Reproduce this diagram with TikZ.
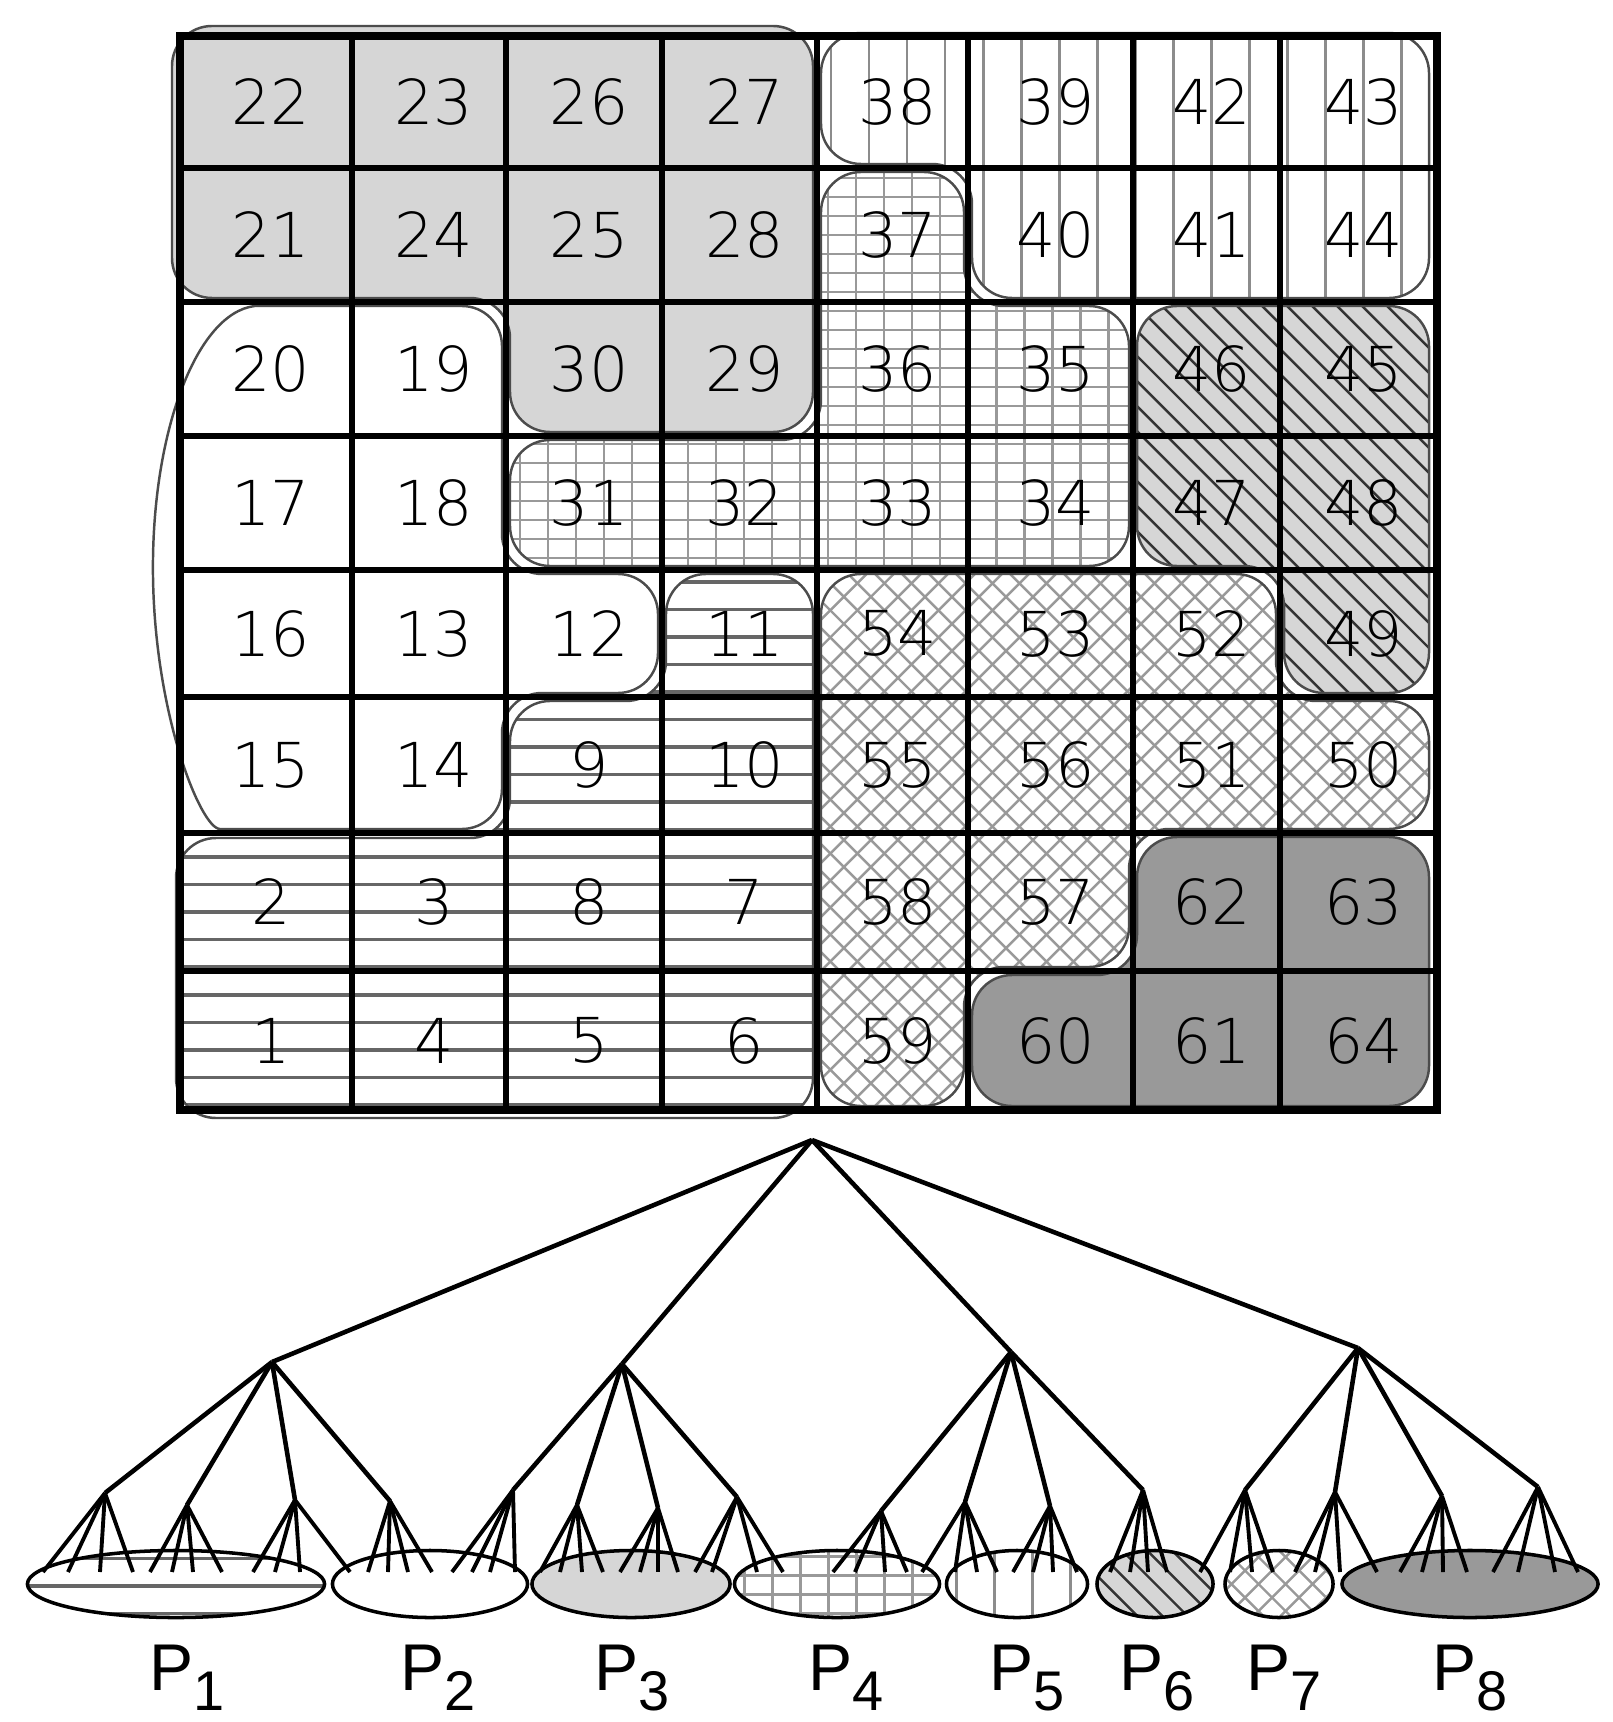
\documentclass[tikz,border=0pt]{standalone}
\usepackage{fontspec}
\usetikzlibrary{calc,shapes.geometric}
\newfontfamily\numfont{DejaVuSans-ExtraLight.ttf}
\newfontfamily\labfont{Liberation Sans}
\newcommand\psub[1]{\raisebox{-0.2cm}{\fontsize{15.9}{16}\selectfont #1}}
\tikzset{
    % region fills (shared by the cell regions and the leaf sets)
    hstripe/.style={path picture={
        \foreach \t in {0,...,45}
          \draw[black!60,line width=1pt] ([yshift=-\t*0.275cm-0.08cm]path picture bounding box.north west) -- ++(14cm,0cm);}},
    plain/.style={fill=white},
    lightfill/.style={fill=black!16},
    gridfill/.style={path picture={
        \foreach \t in {0,...,45}
          \draw[black!40,line width=0.7pt] ([yshift=-\t*0.19cm-0.06cm]path picture bounding box.north west) -- ++(14cm,0cm);
        \foreach \t in {0,...,45}
          \draw[black!40,line width=0.7pt] ([xshift=\t*0.28cm+0.1cm]path picture bounding box.north west) -- ++(0cm,-14cm);}},
    vstripe/.style={path picture={
        \foreach \t in {0,...,40}
          \draw[black!45,line width=0.8pt] ([xshift=\t*0.38cm+0.1cm]path picture bounding box.north west) -- ++(0cm,-14cm);}},
    diagfill/.style={fill=black!16,path picture={
        \foreach \t in {-40,...,25}
          \draw[black!80,line width=0.7pt] ([xshift=\t*0.25cm]path picture bounding box.north west) -- ++(14cm,-14cm);}},
    crossfill/.style={path picture={
        \foreach \t in {-40,...,35} {
          \draw[black!40,line width=0.7pt] ([xshift=\t*0.27cm]path picture bounding box.north west) -- ++(14cm,-14cm);
          \draw[black!40,line width=0.7pt] ([xshift=\t*0.27cm]path picture bounding box.south west) -- ++(14cm,14cm);}}},
    darkfill/.style={fill=black!40},
}
\begin{document}
\begin{tikzpicture}[x=0.01cm,y=-0.01cm,
   blob/.style={rounded corners=0.4cm,postaction={draw=black!70,line width=0.7pt}},
   gridline/.style={line width=1.8pt},
   num/.style={font=\numfont\fontsize{17.6}{18}\selectfont,inner sep=0pt,xshift=0.05cm},
   leafset/.style={ellipse,draw,line width=1pt,minimum height=0.67cm,inner sep=0pt},
   branch/.style={line width=1.3pt},
   plab/.style={anchor=base west,inner sep=0pt,font=\labfont\fontsize{18.8}{20}\selectfont}]
  \useasboundingbox (0,0) rectangle (1613,1722);
  % grid corners
  \foreach \c/\xv in {0/180,1/352,2/506,3/662,4/817,5/968,6/1133,7/1280,8/1437}
    \foreach \r/\yv in {0/36,1/168,2/302,3/436,4/570,5/697,6/833,7/971,8/1110}
      \coordinate (g\c\r) at (\xv,\yv);
  % regions
  \path[hstripe,blob] ($(g06)+(-4,5)$) -- ($(g26)+(4,5)$) -- ($(g25)+(4,4)$)
    -- ($(g35)+(4,4)$) -- ($(g34)+(4,4)$) -- ($(g44)+(-4,4)$) -- ($(g48)+(-4,8)$)
    -- ($(g08)+(-4,8)$) -- cycle;
  \path[plain,blob] (260,306) -- ($(g22)+(-4,4)$)
    -- ($(g24)+(-4,4)$) -- ($(g34)+(-4,4)$) -- ($(g35)+(-4,-4)$) -- ($(g25)+(-4,-4)$)
    -- ($(g26)+(-4,-4)$) -- (260,829) [sharp corners]
    arc[start angle=270,end angle=90,x radius=1.07cm,y radius=2.615cm] -- cycle;
  \path[lightfill,blob] ($(g00)+(-8,-10)$) -- ($(g40)+(-4,-10)$) -- ($(g43)+(-4,-4)$)
    -- ($(g23)+(4,-4)$) -- ($(g22)+(4,-4)$) -- ($(g02)+(-8,-4)$) -- cycle;
  \path[gridfill,blob] ($(g23)+(4,4)$) -- ($(g43)+(4,4)$) -- ($(g41)+(4,4)$)
    -- ($(g51)+(-4,4)$) -- ($(g52)+(-4,4)$) -- ($(g62)+(-4,4)$) -- ($(g64)+(-4,-4)$)
    -- ($(g24)+(4,-4)$) -- cycle;
  \path[vstripe,blob] ($(g40)+(4,-3)$) -- ($(g80)+(-8,-3)$) -- ($(g82)+(-8,-4)$)
    -- ($(g52)+(4,-4)$) -- ($(g51)+(4,-4)$) -- ($(g41)+(4,-4)$) -- cycle;
  \path[diagfill,blob] ($(g62)+(4,4)$) -- ($(g82)+(-8,4)$) -- ($(g85)+(-8,-4)$)
    -- ($(g75)+(4,-4)$) -- ($(g74)+(4,-4)$) -- ($(g64)+(4,-4)$) -- cycle;
  \path[crossfill,blob] ($(g44)+(4,4)$) -- ($(g74)+(-4,4)$) -- ($(g75)+(-4,4)$)
    -- ($(g85)+(-8,4)$) -- ($(g86)+(-8,-4)$) -- ($(g66)+(-4,-4)$) -- ($(g67)+(-4,-4)$)
    -- ($(g57)+(-4,-4)$) -- ($(g58)+(-4,-4)$) -- ($(g48)+(4,-4)$) -- cycle;
  \path[darkfill,blob] ($(g66)+(4,4)$) -- ($(g86)+(-8,4)$) -- ($(g88)+(-8,-4)$)
    -- ($(g58)+(4,-4)$) -- ($(g57)+(4,4)$) -- ($(g67)+(4,4)$) -- cycle;
  % grid
  \foreach \i in {1,...,7} {
    \draw[gridline] (g\i0) -- (g\i8);
    \draw[gridline] (g0\i) -- (g8\i);
  }
  \draw[gridline,line width=2.2pt] (g00) rectangle (g88);
  % cell numbers
  \foreach \r/\row in {1/{22,23,26,27,38,39,42,43},2/{21,24,25,28,37,40,41,44},
                       3/{20,19,30,29,36,35,46,45},4/{17,18,31,32,33,34,47,48},
                       5/{16,13,12,11,54,53,52,49},6/{15,14,9,10,55,56,51,50},
                       7/{2,3,8,7,58,57,62,63},8/{1,4,5,6,59,60,61,64}}
    \foreach \v [count=\c] in \row {
      \pgfmathtruncatemacro\cp{\c-1}
      \pgfmathtruncatemacro\rp{\r-1}
      \node[num] (c\v) at ($(g\cp\rp)!0.5!(g\c\r)$) {\v};
    }
  % hierarchy
  \coordinate (root) at (812,1140);
  \foreach \m/\mx/\my in {1/272/1362,2/622/1364,3/1011/1352,4/1358/1348}
    \coordinate (m\m) at (\mx,\my);
  \foreach \nb/\bx/\by/\lvs in {1/105/1493/{43,68,100,133},2/187/1505/{150,172,193,222},
      3/295/1500/{253,275,300,350},4/390/1501/{368,388,408,432},
      5/513/1490/{452,472,490,515},6/577/1505/{540,560,582,603},
      7/658/1508/{620,640,658,678},8/737/1497/{695,712,757,783},
      9/881/1511/{833,855,885,907},10/965/1502/{922,955,977,997},
      11/1050/1506/{1013,1033,1053,1077},12/1143/1490/{1110,1130,1148,1167},
      13/1245/1490/{1200,1230,1252,1273},14/1335/1492/{1295,1315,1340,1377},
      15/1442/1496/{1400,1422,1443,1467},16/1538/1487/{1493,1518,1555,1578}} {
    \coordinate (b\nb) at (\bx,\by);
    \foreach \lx [count=\k] in \lvs {
      \pgfmathtruncatemacro\nl{4*(\nb-1)+\k}
      \coordinate (lf\nl) at (\lx,1572);
    }
  }
  % leaf sets
  \node[leafset,hstripe,minimum width=2.97cm] (e1) at (176,1584) {};
  \node[leafset,plain,minimum width=1.95cm] (e2) at (430,1584) {};
  \node[leafset,lightfill,minimum width=1.98cm] (e3) at (631,1584) {};
  \node[leafset,gridfill,minimum width=2.05cm] (e4) at (837,1584) {};
  \node[leafset,vstripe,minimum width=1.41cm] (e5) at (1017,1584) {};
  \node[leafset,diagfill,minimum width=1.16cm] (e6) at (1155,1584) {};
  \node[leafset,crossfill,minimum width=1.08cm] (e7) at (1279,1584) {};
  \node[leafset,darkfill,minimum width=2.56cm] (e8) at (1470,1584) {};
  % branches
  \foreach \m in {1,...,4} {
    \draw[branch] (root) -- (m\m);
    \foreach \j in {1,...,4} {
      \pgfmathtruncatemacro\nb{4*(\m-1)+\j}
      \draw[branch] (m\m) -- (b\nb);
      \foreach \k in {1,...,4} {
        \pgfmathtruncatemacro\nl{4*(\nb-1)+\k}
        \draw[branch,line width=1.1pt] (b\nb) -- (lf\nl);
      }
    }
  }
  % partition labels
  \foreach \i/\px in {1/149,2/400,3/594,4/808,5/989,6/1119,7/1246,8/1432}
    \node[plab] (p\i) at (\px,1690) {P\psub{\i}};
\end{tikzpicture}
\end{document}
